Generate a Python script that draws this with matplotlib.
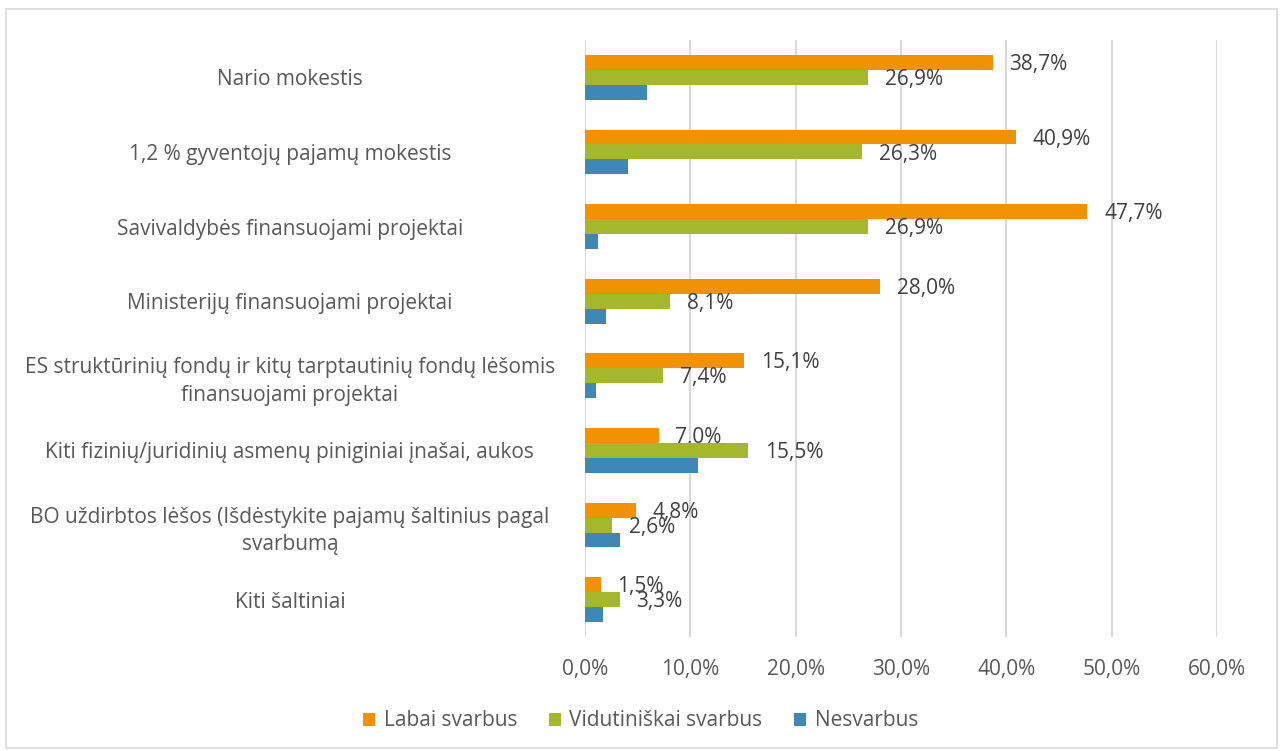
import matplotlib
matplotlib.use('Agg')
import matplotlib.pyplot as plt
import numpy as np
from matplotlib.patches import Rectangle

# ── DATA ──────────────────────────────────────────────────────────────────────
categories = [
    "Nario mokestis",
    "1,2 % gyventojų pajamų mokestis",
    "Savivaldybės finansuojami projektai",
    "Ministerijų finansuojami projektai",
    "ES struktūrinių fondų ir kitų tarptautinių fondų lėšomis\nfinansuojami projektai",
    "Kiti fizinių/juridinių asmenų piniginiai įnašai, aukos",
    "BO uždirbtos lėšos (Išdėstykite pajamų šaltinius pagal\nsvarbumą",
    "Kiti šaltiniai",
]
labai = [38.7, 40.9, 47.7, 28.0, 15.1, 7.0, 4.8, 1.5]
vidutiniskai = [26.9, 26.3, 26.9, 8.1, 7.4, 15.5, 2.6, 3.3]
nesvarbus = [5.9, 4.1, 1.2, 2.0, 1.0, 10.7, 3.3, 1.7]   # no labels in source

series_names = ["Labai svarbus", "Vidutiniškai svarbus", "Nesvarbus"]
x_ticks = [0, 10, 20, 30, 40, 50, 60]

# ── STYLE ─────────────────────────────────────────────────────────────────────
COLORS = ["#F39200", "#A5B72B", "#3F87B5"]
GRID = "#D9D9D9"
TXT = "#595959"
VAL = "#404040"
FS = 15

plt.rcParams['font.family'] = ['Open Sans', 'DejaVu Sans']

fig = plt.figure(figsize=(12.81, 7.51), dpi=100)
ax = fig.add_axes([585 / 1281, 1 - 637 / 751, (1217 - 585) / 1281, (637 - 40) / 751])

# outer chart border
fig.patches.append(Rectangle((6 / 1281, 1 - 748 / 751), 1271 / 1281, 739 / 751,
                             transform=fig.transFigure, fill=False,
                             edgecolor=GRID, linewidth=1.2))

y = np.arange(len(categories))
h = 0.2
offsets = [-h, 0, h]
all_series = [labai, vidutiniskai, nesvarbus]

for i, (vals, name, col) in enumerate(zip(all_series, series_names, COLORS)):
    bars = ax.barh(y + offsets[i], vals, height=h, color=col, label=name, zorder=3)
    if i < 2:   # Nesvarbus has no data labels in the original
        for b, v in zip(bars, vals):
            ax.annotate(f"{v:.1f}%".replace(".", ","),
                        xy=(b.get_width(), b.get_y() + b.get_height() / 2),
                        xytext=(12, -1.5), textcoords='offset points',
                        ha='left', va='center', fontsize=FS, color=VAL)

ax.set_xlim(0, 60)
ax.set_ylim(len(categories) - 0.5, -0.5)
ax.set_xticks(x_ticks)
ax.set_xticklabels([f"{t:.1f}%".replace(".", ",") for t in x_ticks],
                   fontsize=FS, color=TXT)
ax.set_yticks(y)
ax.set_yticklabels(categories, fontsize=FS, color=TXT, ha='center',
                   multialignment='center', linespacing=1.4)
ax.tick_params(axis='both', length=0)
ax.tick_params(axis='x', pad=16)
ax.tick_params(axis='y', pad=0)

# centre the category labels around x≈290 px
for lbl in ax.get_yticklabels():
    lbl.set_x(-0.467)

ax.grid(axis='x', color=GRID, linewidth=1.5, zorder=0)
for s in ax.spines.values():
    s.set_visible(False)

fig.legend(loc='center', bbox_to_anchor=(0.5, 1 - 721 / 751), ncol=3, frameon=False,
           fontsize=FS, labelcolor=TXT, handlelength=0.6, handleheight=0.6,
           handletextpad=0.4, columnspacing=1.5)

fig.savefig("out.png", dpi=100)
